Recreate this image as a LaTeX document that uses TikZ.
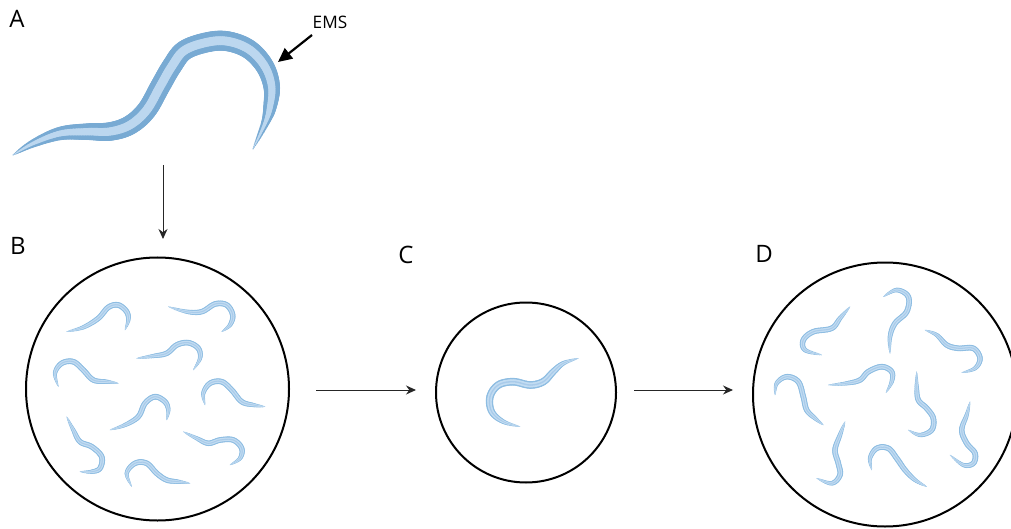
\documentclass[tikz,border=0pt]{standalone}
\usepackage{fontspec}
\setmainfont{Open Sans}
\usetikzlibrary{arrows.meta}

\definecolor{wormedge}{HTML}{78AAD3}
\definecolor{wormfill}{HTML}{BCD7EF}
\definecolor{larvaedge}{HTML}{8EBDE2}
\definecolor{larvafill}{HTML}{C2DCF2}
\definecolor{larvacore}{HTML}{A9CBEA}

% One tapered layer of a worm body. #1 is an array {x0,y0,x1,y1,...} of
% points on the centre line; short round-capped strokes follow the
% Catmull-Rom curve through them, half as wide as #3 (pt) in the middle
% and thinning towards both tips. #4 strokes per stretch between two points.
\newcommand\wormlayer[4]{%
  \pgfmathtruncatemacro\wrmLast{dim(#1)/2-1}%
  \pgfmathsetmacro\wrmX{#1[0]}\pgfmathsetmacro\wrmY{#1[1]}%
  \global\let\wrmQx\wrmX \global\let\wrmQy\wrmY
  \begin{scope}[draw=#2, line cap=round]
  \foreach \wrmI in {1,...,\wrmLast}{%
    \pgfmathtruncatemacro\wrmIa{2*max(\wrmI-2,0)}%
    \pgfmathtruncatemacro\wrmIb{2*(\wrmI-1)}%
    \pgfmathtruncatemacro\wrmIc{2*\wrmI}%
    \pgfmathtruncatemacro\wrmId{2*min(\wrmI+1,\wrmLast)}%
    \pgfmathtruncatemacro\wrmJa{\wrmIa+1}%
    \pgfmathtruncatemacro\wrmJb{\wrmIb+1}%
    \pgfmathtruncatemacro\wrmJc{\wrmIc+1}%
    \pgfmathtruncatemacro\wrmJd{\wrmId+1}%
    \pgfmathsetmacro\wrmXa{#1[\wrmIa]}\pgfmathsetmacro\wrmYa{#1[\wrmJa]}%
    \pgfmathsetmacro\wrmXb{#1[\wrmIb]}\pgfmathsetmacro\wrmYb{#1[\wrmJb]}%
    \pgfmathsetmacro\wrmXc{#1[\wrmIc]}\pgfmathsetmacro\wrmYc{#1[\wrmJc]}%
    \pgfmathsetmacro\wrmXd{#1[\wrmId]}\pgfmathsetmacro\wrmYd{#1[\wrmJd]}%
    \foreach \wrmK in {1,...,#4}{%
      \pgfmathsetmacro\wrmS{\wrmK/#4}%
      \pgfmathsetmacro\wrmX{0.5*(2*\wrmXb+(\wrmXc-\wrmXa)*\wrmS+(2*\wrmXa-5*\wrmXb+4*\wrmXc-\wrmXd)*\wrmS*\wrmS+(3*\wrmXb-\wrmXa-3*\wrmXc+\wrmXd)*\wrmS*\wrmS*\wrmS)}%
      \pgfmathsetmacro\wrmY{0.5*(2*\wrmYb+(\wrmYc-\wrmYa)*\wrmS+(2*\wrmYa-5*\wrmYb+4*\wrmYc-\wrmYd)*\wrmS*\wrmS+(3*\wrmYb-\wrmYa-3*\wrmYc+\wrmYd)*\wrmS*\wrmS*\wrmS)}%
      \pgfmathsetmacro\wrmU{2*(\wrmI-1+(\wrmK-0.5)/#4)/\wrmLast-1}%
      \pgfmathsetmacro\wrmW{2*(#3)*max(0.05,1-\wrmU*\wrmU*\wrmU*\wrmU)}%
      \draw[line width=\wrmW pt] (\wrmQx,\wrmQy) -- (\wrmX,\wrmY);
      \global\let\wrmQx\wrmX \global\let\wrmQy\wrmY
    }%
  }%
  \end{scope}%
}
\newcommand\adultworm[1]{%
  \wormlayer{#1}{wormedge}{5}{10}\wormlayer{#1}{wormfill}{2.2}{10}}
\newcommand\larvaworm[2][1.4]{%
  \wormlayer{#2}{larvaedge}{#1}{7}%
  \wormlayer{#2}{larvafill}{0.62*#1}{7}%
  \wormlayer{#2}{larvacore}{0.17*#1}{7}}

\tikzset{
  plate/.style={circle, draw=black, line width=1pt, minimum size=#1, inner sep=0pt},
  flow/.style={draw=black!85, line width=0.5pt, -{Stealth[length=5pt,width=4.5pt]}},
  panel/.style={font=\fontsize{12}{14}\selectfont, inner sep=0pt},
}

\begin{document}
\begin{tikzpicture}[x=0.5pt, y=-0.5pt]
\useasboundingbox (0,0) rectangle (1011,529);

% panel letters
\node[panel] (la) at (17,19) {A};
\node[panel] (lb) at (18,246) {B};
\node[panel] (lc) at (406,255) {C};
\node[panel] (ld) at (764,254) {D};

% mutagenised adult
\adultworm{{13,155, 33,143.5, 60,133.5, 86.7,131.7, 110,131.5, 130,125,
  146.7,110, 160,86.7, 172,66, 185,50, 210,41.7, 230,41.7,
  250,50, 265,66.7, 271.7,86.7, 270,106.7, 265,123.3, 253,149}}

\node[inner sep=0pt, font=\fontsize{8.6}{10}\selectfont] (ems) at (330,22) {EMS};
\coordinate (emsfrom) at (312,35);
\coordinate (emsto) at (278,62);
\draw[line width=1.1pt, -{Triangle[length=7pt,width=6.5pt]}] (emsfrom) -- (emsto);

% plates (sizes in pt: half the pixel diameter)
\node[plate=131.5pt] (B) at (157.5,389) {};
\node[plate=90pt] (C) at (526,392.5) {};
\node[plate=132pt] (D) at (885,394.5) {};

% flow between the steps
\coordinate (a1) at (163,165);
\coordinate (a2) at (163,239);
\coordinate (b1) at (316,390);
\coordinate (b2) at (416,390);
\coordinate (c1) at (634,390);
\coordinate (c2) at (733,390);
\draw[flow] (a1) -- (a2);
\draw[flow] (b1) -- (b2);
\draw[flow] (c1) -- (c2);

% progeny on plate B
\larvaworm{{66.7,331.7, 83.3,327.3, 98.3,318.3, 108.3,307.3, 118.3,305, 126.7,311.7, 128.3,320, 125,330}}
\larvaworm{{168.3,306.7, 186.7,311.7, 201.7,311.7, 215,304, 226.7,305, 232.7,315, 230,325, 221.7,331.7}}
\larvaworm{{136.7,358.3, 153.3,356, 166.7,353.3, 176.7,345, 188.3,342.7, 198.3,348.3, 200,358.3, 193.3,370}}
\larvaworm{{58.3,386.7, 55,373.3, 61.7,363.3, 73.3,361.7, 83.3,370, 93.3,380, 106.7,381.7, 118.3,383.3}}
\larvaworm{{205,405, 203.3,393.3, 210,383.3, 221.7,381.7, 231.7,390, 241.7,401.7, 253.3,405, 265,406.7}}
\larvaworm{{110,430, 125,425, 138.3,416.7, 145,403.3, 155,396.7, 165,401.7, 168.3,410, 166.7,420}}
\larvaworm{{66.7,416.7, 73.3,430, 80,441.7, 91.7,446.7, 101.7,456.7, 100,468.3, 91.7,471.7, 80,471.7}}
\larvaworm{{183.3,431.7, 196.7,438.3, 208.3,443.3, 220,440, 233.3,440, 241.7,448.3, 240,458.3, 230,465}}
\larvaworm{{131.7,486.7, 126.7,473.3, 135,463.3, 146.7,463.3, 156.7,473.3, 166.7,480, 178.3,481.7, 190,483.3}}

% single picked worm on plate C
\larvaworm[1.9]{{578.3,358.3, 563.3,363.3, 553.3,371.7, 543.3,381.7, 530,385, 513.3,381.7, 498.3,385, 490,396.7, 491.7,411.7, 503.3,421.7, 520,426.7}}

% its progeny on plate D
\larvaworm{{850,306.7, 840,318.3, 831.7,328.3, 813.3,331.7, 803.3,340, 805,350, 821.7,355}}
\larvaworm{{883.3,296.7, 896.7,290, 908.3,296.7, 906.7,311.7, 895,323.3, 890,336.7, 890,353.3}}
\larvaworm{{925,330, 936.7,335, 946.7,345, 958.3,348.3, 973.3,348.3, 980,358.3, 975,368.3, 961.7,372.7}}
\larvaworm{{828.3,385, 846.7,383.3, 860,380, 868.3,371.7, 881.7,366.7, 891.7,371.7, 891.7,381.7, 886,392.7}}
\larvaworm{{775,395, 776.7,383.3, 786.7,376.7, 798.3,381.7, 803.3,396.7, 806.7,410, 815,418.3, 823.3,425}}
\larvaworm{{916.7,371.7, 916.7,386.7, 918.3,400, 926.7,408.3, 933.3,418.3, 931.7,430, 920,435, 908.3,430}}
\larvaworm{{845,421.7, 840,435, 835,450, 838.3,463.3, 840,475, 831.7,483.3, 816.7,478.3}}
\larvaworm{{871.7,470, 870,458.3, 876.7,448.3, 888.3,448.3, 896.7,458.3, 905,470, 915,480, 926.7,486.7}}
\larvaworm{{970,401.7, 966.7,415, 961.7,430, 966.7,443.3, 975,453.3, 973.3,463.3, 963.3,465, 950,455}}
\end{tikzpicture}
\end{document}
